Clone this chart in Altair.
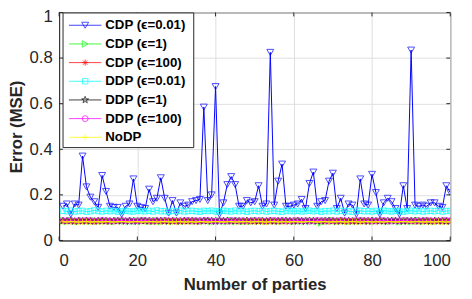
import altair as alt
import pandas as pd

# ---------------- data ----------------
parties = list(range(1, 101))

cdp_001 = [0.15, 0.16, 0.115, 0.16, 0.155, 0.37, 0.235, 0.19, 0.17, 0.145,
           0.285, 0.215, 0.15, 0.145, 0.145, 0.115, 0.15, 0.16, 0.27, 0.15,
           0.145, 0.14, 0.225, 0.17, 0.185, 0.275, 0.185, 0.12, 0.175, 0.12,
           0.165, 0.15, 0.155, 0.17, 0.175, 0.18, 0.585, 0.175, 0.2, 0.675,
           0.115, 0.165, 0.245, 0.28, 0.245, 0.15, 0.15, 0.175, 0.165, 0.17,
           0.24, 0.15, 0.16, 0.825, 0.155, 0.26, 0.335, 0.15, 0.15, 0.155,
           0.16, 0.18, 0.14, 0.25, 0.3, 0.15, 0.17, 0.175, 0.26, 0.295,
           0.14, 0.185, 0.12, 0.16, 0.155, 0.115, 0.27, 0.16, 0.155, 0.29,
           0.21, 0.115, 0.165, 0.185, 0.17, 0.14, 0.115, 0.24, 0.14, 0.835,
           0.155, 0.15, 0.155, 0.15, 0.165, 0.165, 0.15, 0.145, 0.24, 0.21]

cdp_1 = [0.086, 0.084, 0.087, 0.085, 0.083, 0.086, 0.085, 0.084, 0.087, 0.085,
         0.084, 0.086, 0.085, 0.083, 0.087, 0.085, 0.086, 0.084, 0.085, 0.086,
         0.085, 0.087, 0.084, 0.085, 0.086, 0.083, 0.085, 0.086, 0.084, 0.087,
         0.085, 0.084, 0.086, 0.085, 0.087, 0.084, 0.085, 0.086, 0.083, 0.085,
         0.086, 0.085, 0.084, 0.087, 0.085, 0.086, 0.084, 0.085, 0.083, 0.086,
         0.085, 0.087, 0.084, 0.085, 0.086, 0.085, 0.084, 0.086, 0.085, 0.083,
         0.087, 0.085, 0.084, 0.086, 0.085, 0.084, 0.077, 0.086, 0.085, 0.087,
         0.084, 0.085, 0.086, 0.083, 0.085, 0.086, 0.084, 0.087, 0.085, 0.084,
         0.086, 0.085, 0.087, 0.084, 0.085, 0.086, 0.083, 0.085, 0.086, 0.084,
         0.085, 0.087, 0.084, 0.086, 0.085, 0.084, 0.086, 0.085, 0.087, 0.085]

cdp_100 = [0.085, 0.086, 0.084, 0.085, 0.087, 0.084, 0.086, 0.085, 0.083, 0.086,
           0.085, 0.084, 0.087, 0.085, 0.086, 0.084, 0.085, 0.087, 0.084, 0.085,
           0.086, 0.085, 0.083, 0.086, 0.085, 0.084, 0.087, 0.085, 0.086, 0.084,
           0.085, 0.086, 0.084, 0.087, 0.085, 0.083, 0.086, 0.085, 0.084, 0.086,
           0.085, 0.087, 0.084, 0.085, 0.086, 0.084, 0.085, 0.087, 0.085, 0.084,
           0.086, 0.085, 0.083, 0.086, 0.085, 0.087, 0.084, 0.085, 0.086, 0.084,
           0.085, 0.086, 0.087, 0.084, 0.085, 0.086, 0.085, 0.084, 0.083, 0.086,
           0.085, 0.087, 0.084, 0.085, 0.086, 0.085, 0.084, 0.086, 0.087, 0.085,
           0.084, 0.086, 0.085, 0.083, 0.086, 0.085, 0.084, 0.087, 0.085, 0.086,
           0.084, 0.085, 0.086, 0.087, 0.084, 0.085, 0.086, 0.084, 0.085, 0.086]

ddp_001 = [0.13, 0.128, 0.131, 0.127, 0.129, 0.13, 0.126, 0.128, 0.132, 0.129,
           0.127, 0.13, 0.128, 0.131, 0.126, 0.129, 0.13, 0.128, 0.127, 0.131,
           0.129, 0.128, 0.13, 0.127, 0.132, 0.128, 0.129, 0.126, 0.13, 0.128,
           0.131, 0.127, 0.129, 0.13, 0.128, 0.126, 0.13, 0.129, 0.131, 0.127,
           0.128, 0.13, 0.129, 0.127, 0.131, 0.128, 0.13, 0.126, 0.129, 0.13,
           0.128, 0.131, 0.127, 0.129, 0.13, 0.128, 0.126, 0.131, 0.129, 0.128,
           0.13, 0.127, 0.129, 0.131, 0.128, 0.13, 0.126, 0.129, 0.128, 0.131,
           0.127, 0.13, 0.129, 0.128, 0.126, 0.131, 0.13, 0.128, 0.129, 0.127,
           0.13, 0.128, 0.131, 0.129, 0.127, 0.13, 0.128, 0.126, 0.129, 0.131,
           0.128, 0.13, 0.127, 0.129, 0.13, 0.128, 0.131, 0.127, 0.129, 0.13]

ddp_1 = [0.086, 0.085, 0.087, 0.084, 0.086, 0.085, 0.087, 0.085, 0.084, 0.086,
         0.087, 0.085, 0.084, 0.086, 0.085, 0.087, 0.084, 0.086, 0.085, 0.084,
         0.087, 0.086, 0.085, 0.084, 0.086, 0.087, 0.085, 0.084, 0.086, 0.085,
         0.084, 0.087, 0.085, 0.086, 0.084, 0.085, 0.087, 0.086, 0.085, 0.084,
         0.086, 0.085, 0.087, 0.084, 0.086, 0.085, 0.084, 0.087, 0.085, 0.086,
         0.084, 0.086, 0.085, 0.087, 0.084, 0.085, 0.086, 0.087, 0.085, 0.084,
         0.086, 0.085, 0.084, 0.087, 0.086, 0.085, 0.084, 0.086, 0.087, 0.085,
         0.084, 0.086, 0.085, 0.087, 0.084, 0.085, 0.086, 0.085, 0.084, 0.087,
         0.085, 0.086, 0.084, 0.085, 0.087, 0.086, 0.085, 0.084, 0.086, 0.085,
         0.087, 0.084, 0.086, 0.085, 0.084, 0.087, 0.085, 0.086, 0.084, 0.085]

ddp_100 = [0.087, 0.086, 0.088, 0.085, 0.087, 0.086, 0.088, 0.087, 0.085, 0.086,
           0.088, 0.087, 0.086, 0.085, 0.087, 0.088, 0.086, 0.087, 0.085, 0.086,
           0.087, 0.088, 0.086, 0.085, 0.087, 0.086, 0.088, 0.087, 0.086, 0.085,
           0.087, 0.086, 0.088, 0.085, 0.087, 0.086, 0.087, 0.088, 0.086, 0.085,
           0.087, 0.086, 0.085, 0.088, 0.087, 0.086, 0.087, 0.085, 0.086, 0.088,
           0.087, 0.086, 0.085, 0.087, 0.088, 0.086, 0.087, 0.085, 0.086, 0.087,
           0.088, 0.086, 0.087, 0.085, 0.086, 0.088, 0.087, 0.086, 0.085, 0.087,
           0.086, 0.088, 0.087, 0.085, 0.086, 0.087, 0.088, 0.086, 0.087, 0.085,
           0.086, 0.087, 0.088, 0.086, 0.085, 0.087, 0.086, 0.088, 0.087, 0.086,
           0.085, 0.087, 0.086, 0.088, 0.087, 0.085, 0.086, 0.087, 0.088, 0.086]

nodp = [0.082, 0.081, 0.083, 0.082, 0.081, 0.082, 0.083, 0.081, 0.082, 0.082,
        0.081, 0.083, 0.082, 0.081, 0.082, 0.083, 0.082, 0.081, 0.082, 0.083,
        0.081, 0.082, 0.082, 0.083, 0.081, 0.082, 0.083, 0.082, 0.081, 0.082,
        0.083, 0.081, 0.082, 0.082, 0.081, 0.083, 0.082, 0.081, 0.082, 0.083,
        0.082, 0.081, 0.082, 0.083, 0.081, 0.082, 0.082, 0.083, 0.081, 0.082,
        0.083, 0.082, 0.081, 0.082, 0.083, 0.081, 0.082, 0.082, 0.081, 0.083,
        0.082, 0.081, 0.082, 0.083, 0.082, 0.081, 0.082, 0.083, 0.081, 0.082,
        0.082, 0.083, 0.081, 0.082, 0.083, 0.082, 0.081, 0.082, 0.083, 0.081,
        0.082, 0.082, 0.081, 0.083, 0.082, 0.081, 0.082, 0.083, 0.082, 0.081,
        0.082, 0.083, 0.081, 0.082, 0.082, 0.081, 0.083, 0.082, 0.081, 0.082]

series_names = ["CDP (ϵ=0.01)", "CDP (ϵ=1)", "CDP (ϵ=100)",
                "DDP (ϵ=0.01)", "DDP (ϵ=1)", "DDP (ϵ=100)", "NoDP"]
series_values = [cdp_001, cdp_1, cdp_100, ddp_001, ddp_1, ddp_100, nodp]

x_ticks = [0, 20, 40, 60, 80, 100]
y_ticks = [0, 0.2, 0.4, 0.6, 0.8, 1]

# ---------------- styles ----------------
colors = ["#0000ff", "#00ff00", "#ff0000", "#00ffff", "#000000", "#ff00ff", "#ffff00"]
STAR = ("M0,-1L0.2245,-0.309L0.951,-0.309L0.363,0.118L0.588,0.809L0,0.382"
        "L-0.588,0.809L-0.363,0.118L-0.951,-0.309L-0.2245,-0.309Z")
shapes = ["triangle-down", "triangle-right",
          "M-1,0H1M0,-1V1M-0.7,-0.7L0.7,0.7M-0.7,0.7L0.7,-0.7",
          "square", STAR, "circle", "M-1,0H1M0,-1V1"]
sizes = [50, 45, 40, 30, 55, 36, 45]

W, H = 398, 232
TOP = 2
FONT = "Liberation Sans"
AX = "#262626"

x_axis = alt.Axis(values=x_ticks, title="Number of parties", grid=True, ticks=False,
                  labelPadding=12, titlePadding=9)
y_axis = alt.Axis(values=y_ticks, title="Error (MSE)", grid=True, ticks=False,
                  format="~g", labelPadding=7, titlePadding=4,
                  labelOffset={"condition": {"test": "datum.value == 1", "value": 4.5},
                               "value": 0})
x_scale = alt.Scale(domain=[0, 100], nice=False)
y_scale = alt.Scale(domain=[0, 1], nice=False)


def xe(field):
    return alt.X(field, type="quantitative", scale=x_scale, axis=x_axis)


def ye(field):
    return alt.Y(field, type="quantitative", scale=y_scale, axis=y_axis)


layers = []
for name, vals, col, shp, sz in zip(series_names, series_values, colors, shapes, sizes):
    df = pd.DataFrame({"party": parties, "mse": vals})
    base = alt.Chart(df)
    layers.append(base.mark_line(strokeWidth=1, color=col, clip=True).encode(
        x=xe("party"), y=ye("mse")))
    layers.append(base.mark_point(filled=False, strokeWidth=1, clip=True).encode(
        x=xe("party"), y=ye("mse"), color=alt.value(col), shape=alt.value(shp),
        size=alt.value(sz)))

# inward ticks (MATLAB style)
xt = pd.DataFrame({"v": x_ticks})
yt = pd.DataFrame({"v": y_ticks})
TL = 4
layers.append(alt.Chart(xt).mark_rule(color=AX, strokeWidth=1).encode(
    x=xe("v"), y=alt.value(H), y2=alt.value(H - TL)))
layers.append(alt.Chart(xt).mark_rule(color=AX, strokeWidth=1).encode(
    x=xe("v"), y=alt.value(0), y2=alt.value(TL)))
layers.append(alt.Chart(yt).mark_rule(color=AX, strokeWidth=1).encode(
    y=ye("v"), x=alt.value(0), x2=alt.value(TL)))
layers.append(alt.Chart(yt).mark_rule(color=AX, strokeWidth=1).encode(
    y=ye("v"), x=alt.value(W), x2=alt.value(W - TL)))

# legend (manual, MATLAB-like box); page coords minus plot origin (60, 10)
one = pd.DataFrame({"k": [0]})
layers.append(alt.Chart(one).mark_rect(fill="white", stroke=AX, strokeWidth=1).encode(
    x=alt.value(4), x2=alt.value(137), y=alt.value(0.5), y2=alt.value(137.5)))
for i, (name, col, shp, sz) in enumerate(zip(series_names, colors, shapes, sizes)):
    ly = 13 + 19 * i
    ldf = pd.DataFrame({"name": [name]})
    lb = alt.Chart(ldf)
    layers.append(lb.mark_rule(color=col, strokeWidth=1, opacity=0.75).encode(
        x=alt.value(10), x2=alt.value(43), y=alt.value(ly)))
    layers.append(lb.mark_point(filled=False, strokeWidth=1).encode(
        x=alt.value(26.5), y=alt.value(ly), color=alt.value(col),
        shape=alt.value(shp), size=alt.value(sz)))
    layers.append(lb.mark_text(font=FONT, fontSize=13.5, fontWeight="bold",
                               align="left", baseline="middle", color="black").encode(
        x=alt.value(47), y=alt.value(ly), text=alt.Text("name:N")))

chart = alt.layer(*layers).properties(
    width=W, height=H,
    autosize=alt.AutoSizeParams(type="none"),
    padding={"left": 52, "top": TOP, "right": 14, "bottom": 57},
).configure_view(
    stroke=AX, strokeWidth=1
).configure_axis(
    labelFont=FONT, labelFontSize=17, labelColor=AX,
    titleFont=FONT, titleFontSize=17, titleFontWeight="bold", titleColor=AX,
    domainColor=AX, domainWidth=1, gridColor="#dedede", gridWidth=1,
)

chart.save("out.html", embed_options={"renderer": "svg", "actions": False})
